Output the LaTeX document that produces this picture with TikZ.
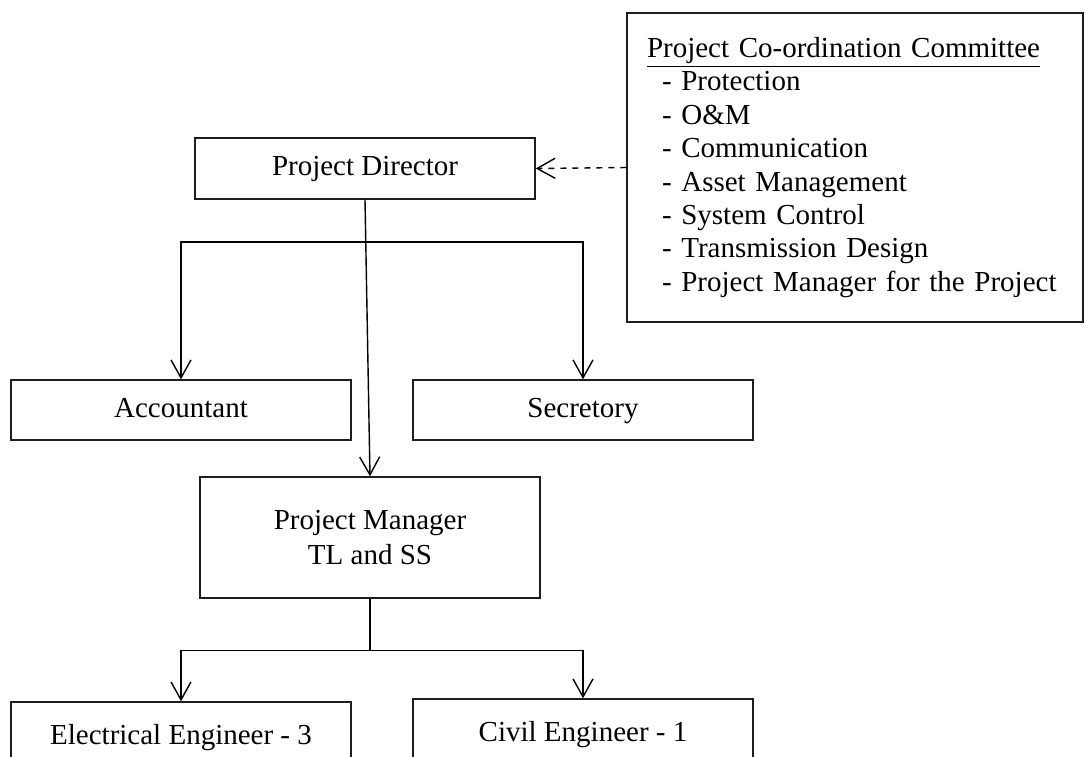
\documentclass[tikz,border=0pt]{standalone}
\usepackage{fontspec}
\setmainfont{Liberation Serif}
\usetikzlibrary{arrows.meta, positioning, calc}
\definecolor{lineGray}{RGB}{30,30,30}

\begin{document}
\begin{tikzpicture}[x=0.5pt,y=-0.5pt,
    box/.style={draw=lineGray,line width=0.7pt,minimum width=170pt,inner sep=0pt,
      font=\fontsize{14.5pt}{17.5pt}\selectfont,align=center},
    onerow/.style={box,text height=10pt,text depth=3pt},
    arr/.style={line width=0.7pt,-{Straight Barb[length=9pt,width=10pt]}}]
  \useasboundingbox (0,0) rectangle (1085,756);
  \clip (0,0) rectangle (1085,756);
  % Boxes
  \node[onerow,minimum height=30.5pt] (pd) at (365,168.5) {Project Director};
  \node[onerow,minimum height=30pt] (acc) at (181,410) {Accountant};
  \node[onerow,minimum height=30pt] (sec) at (583,410) {Secretory};
  \node[box,minimum height=60.5pt] (pm) at (370,537.5) {Project Manager\\TL and SS};
  \node[onerow,minimum height=35pt] (ee) at (181,737) {Electrical Engineer - 3};
  \node[onerow,minimum height=35pt] (ce) at (583,734) {Civil Engineer - 1};
  % Committee
  \node[box,minimum width=228pt,minimum height=154.5pt,text width=208pt,align=left,
        font=\fontsize{14.5pt}{16.7pt}\selectfont] (pcc) at (855,167.5)
    {\underline{Project Co-ordination Committee}\\
     \hspace*{7.5pt}- Protection\\
     \hspace*{7.5pt}- O\&M\\
     \hspace*{7.5pt}- Communication\\
     \hspace*{7.5pt}- Asset Management\\
     \hspace*{7.5pt}- System Control\\
     \hspace*{7.5pt}- Transmission Design\\
     \hspace*{7.5pt}- Project Manager for the Project};
  % Connectors
  \draw[arr,dashed] (pcc.west) -- (pd.east);
  \draw[arr] (pd.south) -- (pm.north);
  \coordinate (br) at (366,242);
  \draw[arr] (br) -| (acc.north);
  \draw[arr] (br) -| (sec.north);
  \coordinate (pmbr) at ($(pm.south)+(0,52)$);
  \draw[line width=0.7pt] (pm.south) -- (pmbr);
  \draw[arr] (pmbr) -| (ee.north);
  \draw[arr] (pmbr) -| (ce.north);
\end{tikzpicture}
\end{document}
